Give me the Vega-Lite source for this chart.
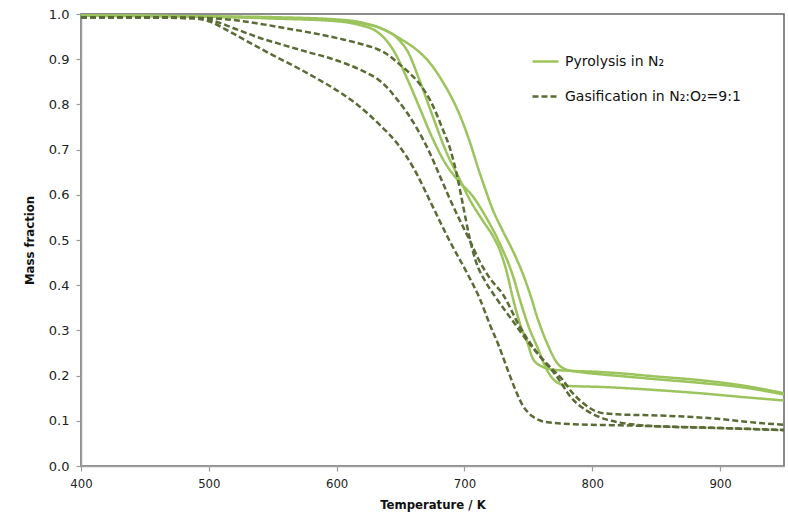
{
  "$schema": "https://vega.github.io/schema/vega-lite/v6.json",
  "width": 703,
  "height": 452,
  "autosize": {"type": "none"},
  "padding": {"left": 81, "top": 14, "right": 4, "bottom": 47},
  "background": "white",
  "config": {
    "view": {"stroke": "#666666", "strokeWidth": 1.5},
    "axis": {"grid": false, "domainColor": "#a0a0a0", "tickColor": "#999999", "domainWidth": 1.5, "tickWidth": 1.2, "tickSize": 5, "labelColor": "#222222", "titleColor": "#111111", "labelFlush": false},
    "legend": {"padding": 0}
  },
  "datasets": {
    "curves": [
      {"T": 400, "m": 0.996, "s": "P1", "type": "Pyrolysis in N₂"},
      {"T": 500, "m": 0.994, "s": "P1", "type": "Pyrolysis in N₂"},
      {"T": 550, "m": 0.990, "s": "P1", "type": "Pyrolysis in N₂"},
      {"T": 600, "m": 0.984, "s": "P1", "type": "Pyrolysis in N₂"},
      {"T": 616, "m": 0.977, "s": "P1", "type": "Pyrolysis in N₂"},
      {"T": 632, "m": 0.960, "s": "P1", "type": "Pyrolysis in N₂"},
      {"T": 645, "m": 0.917, "s": "P1", "type": "Pyrolysis in N₂"},
      {"T": 655, "m": 0.858, "s": "P1", "type": "Pyrolysis in N₂"},
      {"T": 665, "m": 0.792, "s": "P1", "type": "Pyrolysis in N₂"},
      {"T": 675, "m": 0.725, "s": "P1", "type": "Pyrolysis in N₂"},
      {"T": 685, "m": 0.670, "s": "P1", "type": "Pyrolysis in N₂"},
      {"T": 695, "m": 0.632, "s": "P1", "type": "Pyrolysis in N₂"},
      {"T": 707, "m": 0.595, "s": "P1", "type": "Pyrolysis in N₂"},
      {"T": 718, "m": 0.545, "s": "P1", "type": "Pyrolysis in N₂"},
      {"T": 728, "m": 0.490, "s": "P1", "type": "Pyrolysis in N₂"},
      {"T": 738, "m": 0.420, "s": "P1", "type": "Pyrolysis in N₂"},
      {"T": 743.5, "m": 0.367, "s": "P1", "type": "Pyrolysis in N₂"},
      {"T": 750, "m": 0.310, "s": "P1", "type": "Pyrolysis in N₂"},
      {"T": 757, "m": 0.263, "s": "P1", "type": "Pyrolysis in N₂"},
      {"T": 764.6, "m": 0.212, "s": "P1", "type": "Pyrolysis in N₂"},
      {"T": 772.5, "m": 0.185, "s": "P1", "type": "Pyrolysis in N₂"},
      {"T": 782.6, "m": 0.177, "s": "P1", "type": "Pyrolysis in N₂"},
      {"T": 806, "m": 0.175, "s": "P1", "type": "Pyrolysis in N₂"},
      {"T": 850, "m": 0.168, "s": "P1", "type": "Pyrolysis in N₂"},
      {"T": 884, "m": 0.161, "s": "P1", "type": "Pyrolysis in N₂"},
      {"T": 920, "m": 0.152, "s": "P1", "type": "Pyrolysis in N₂"},
      {"T": 950, "m": 0.145, "s": "P1", "type": "Pyrolysis in N₂"},

      {"T": 400, "m": 0.996, "s": "P2", "type": "Pyrolysis in N₂"},
      {"T": 500, "m": 0.994, "s": "P2", "type": "Pyrolysis in N₂"},
      {"T": 550, "m": 0.991, "s": "P2", "type": "Pyrolysis in N₂"},
      {"T": 600, "m": 0.986, "s": "P2", "type": "Pyrolysis in N₂"},
      {"T": 620, "m": 0.979, "s": "P2", "type": "Pyrolysis in N₂"},
      {"T": 635, "m": 0.968, "s": "P2", "type": "Pyrolysis in N₂"},
      {"T": 648, "m": 0.945, "s": "P2", "type": "Pyrolysis in N₂"},
      {"T": 656, "m": 0.915, "s": "P2", "type": "Pyrolysis in N₂"},
      {"T": 664, "m": 0.860, "s": "P2", "type": "Pyrolysis in N₂"},
      {"T": 675, "m": 0.775, "s": "P2", "type": "Pyrolysis in N₂"},
      {"T": 685, "m": 0.700, "s": "P2", "type": "Pyrolysis in N₂"},
      {"T": 697, "m": 0.630, "s": "P2", "type": "Pyrolysis in N₂"},
      {"T": 704, "m": 0.590, "s": "P2", "type": "Pyrolysis in N₂"},
      {"T": 715, "m": 0.540, "s": "P2", "type": "Pyrolysis in N₂"},
      {"T": 722, "m": 0.510, "s": "P2", "type": "Pyrolysis in N₂"},
      {"T": 728, "m": 0.475, "s": "P2", "type": "Pyrolysis in N₂"},
      {"T": 733, "m": 0.430, "s": "P2", "type": "Pyrolysis in N₂"},
      {"T": 738, "m": 0.370, "s": "P2", "type": "Pyrolysis in N₂"},
      {"T": 744, "m": 0.310, "s": "P2", "type": "Pyrolysis in N₂"},
      {"T": 749, "m": 0.275, "s": "P2", "type": "Pyrolysis in N₂"},
      {"T": 754, "m": 0.235, "s": "P2", "type": "Pyrolysis in N₂"},
      {"T": 761.5, "m": 0.219, "s": "P2", "type": "Pyrolysis in N₂"},
      {"T": 770, "m": 0.213, "s": "P2", "type": "Pyrolysis in N₂"},
      {"T": 780, "m": 0.211, "s": "P2", "type": "Pyrolysis in N₂"},
      {"T": 806, "m": 0.208, "s": "P2", "type": "Pyrolysis in N₂"},
      {"T": 822, "m": 0.205, "s": "P2", "type": "Pyrolysis in N₂"},
      {"T": 850, "m": 0.198, "s": "P2", "type": "Pyrolysis in N₂"},
      {"T": 884, "m": 0.190, "s": "P2", "type": "Pyrolysis in N₂"},
      {"T": 920, "m": 0.177, "s": "P2", "type": "Pyrolysis in N₂"},
      {"T": 950, "m": 0.161, "s": "P2", "type": "Pyrolysis in N₂"},

      {"T": 400, "m": 0.997, "s": "P3", "type": "Pyrolysis in N₂"},
      {"T": 500, "m": 0.995, "s": "P3", "type": "Pyrolysis in N₂"},
      {"T": 550, "m": 0.993, "s": "P3", "type": "Pyrolysis in N₂"},
      {"T": 600, "m": 0.988, "s": "P3", "type": "Pyrolysis in N₂"},
      {"T": 620, "m": 0.981, "s": "P3", "type": "Pyrolysis in N₂"},
      {"T": 635, "m": 0.968, "s": "P3", "type": "Pyrolysis in N₂"},
      {"T": 650, "m": 0.945, "s": "P3", "type": "Pyrolysis in N₂"},
      {"T": 665, "m": 0.915, "s": "P3", "type": "Pyrolysis in N₂"},
      {"T": 672, "m": 0.895, "s": "P3", "type": "Pyrolysis in N₂"},
      {"T": 683, "m": 0.850, "s": "P3", "type": "Pyrolysis in N₂"},
      {"T": 690, "m": 0.815, "s": "P3", "type": "Pyrolysis in N₂"},
      {"T": 698, "m": 0.765, "s": "P3", "type": "Pyrolysis in N₂"},
      {"T": 705, "m": 0.710, "s": "P3", "type": "Pyrolysis in N₂"},
      {"T": 710, "m": 0.665, "s": "P3", "type": "Pyrolysis in N₂"},
      {"T": 716, "m": 0.615, "s": "P3", "type": "Pyrolysis in N₂"},
      {"T": 722, "m": 0.568, "s": "P3", "type": "Pyrolysis in N₂"},
      {"T": 730, "m": 0.520, "s": "P3", "type": "Pyrolysis in N₂"},
      {"T": 738, "m": 0.475, "s": "P3", "type": "Pyrolysis in N₂"},
      {"T": 745, "m": 0.430, "s": "P3", "type": "Pyrolysis in N₂"},
      {"T": 751, "m": 0.383, "s": "P3", "type": "Pyrolysis in N₂"},
      {"T": 758, "m": 0.320, "s": "P3", "type": "Pyrolysis in N₂"},
      {"T": 764.6, "m": 0.272, "s": "P3", "type": "Pyrolysis in N₂"},
      {"T": 772.5, "m": 0.228, "s": "P3", "type": "Pyrolysis in N₂"},
      {"T": 780, "m": 0.213, "s": "P3", "type": "Pyrolysis in N₂"},
      {"T": 790, "m": 0.208, "s": "P3", "type": "Pyrolysis in N₂"},
      {"T": 806, "m": 0.203, "s": "P3", "type": "Pyrolysis in N₂"},
      {"T": 822, "m": 0.199, "s": "P3", "type": "Pyrolysis in N₂"},
      {"T": 850, "m": 0.192, "s": "P3", "type": "Pyrolysis in N₂"},
      {"T": 884, "m": 0.184, "s": "P3", "type": "Pyrolysis in N₂"},
      {"T": 920, "m": 0.173, "s": "P3", "type": "Pyrolysis in N₂"},
      {"T": 950, "m": 0.158, "s": "P3", "type": "Pyrolysis in N₂"},

      {"T": 400, "m": 0.992, "s": "G1", "type": "Gasification in N₂:O₂=9:1"},
      {"T": 450, "m": 0.992, "s": "G1", "type": "Gasification in N₂:O₂=9:1"},
      {"T": 490, "m": 0.990, "s": "G1", "type": "Gasification in N₂:O₂=9:1"},
      {"T": 500, "m": 0.984, "s": "G1", "type": "Gasification in N₂:O₂=9:1"},
      {"T": 517, "m": 0.960, "s": "G1", "type": "Gasification in N₂:O₂=9:1"},
      {"T": 533, "m": 0.935, "s": "G1", "type": "Gasification in N₂:O₂=9:1"},
      {"T": 550, "m": 0.909, "s": "G1", "type": "Gasification in N₂:O₂=9:1"},
      {"T": 570, "m": 0.880, "s": "G1", "type": "Gasification in N₂:O₂=9:1"},
      {"T": 589, "m": 0.850, "s": "G1", "type": "Gasification in N₂:O₂=9:1"},
      {"T": 603, "m": 0.826, "s": "G1", "type": "Gasification in N₂:O₂=9:1"},
      {"T": 616, "m": 0.800, "s": "G1", "type": "Gasification in N₂:O₂=9:1"},
      {"T": 634, "m": 0.754, "s": "G1", "type": "Gasification in N₂:O₂=9:1"},
      {"T": 647, "m": 0.715, "s": "G1", "type": "Gasification in N₂:O₂=9:1"},
      {"T": 660, "m": 0.660, "s": "G1", "type": "Gasification in N₂:O₂=9:1"},
      {"T": 675, "m": 0.575, "s": "G1", "type": "Gasification in N₂:O₂=9:1"},
      {"T": 688, "m": 0.500, "s": "G1", "type": "Gasification in N₂:O₂=9:1"},
      {"T": 702, "m": 0.427, "s": "G1", "type": "Gasification in N₂:O₂=9:1"},
      {"T": 712, "m": 0.370, "s": "G1", "type": "Gasification in N₂:O₂=9:1"},
      {"T": 720, "m": 0.312, "s": "G1", "type": "Gasification in N₂:O₂=9:1"},
      {"T": 727, "m": 0.265, "s": "G1", "type": "Gasification in N₂:O₂=9:1"},
      {"T": 733, "m": 0.219, "s": "G1", "type": "Gasification in N₂:O₂=9:1"},
      {"T": 741, "m": 0.161, "s": "G1", "type": "Gasification in N₂:O₂=9:1"},
      {"T": 746, "m": 0.132, "s": "G1", "type": "Gasification in N₂:O₂=9:1"},
      {"T": 751, "m": 0.115, "s": "G1", "type": "Gasification in N₂:O₂=9:1"},
      {"T": 758, "m": 0.102, "s": "G1", "type": "Gasification in N₂:O₂=9:1"},
      {"T": 767, "m": 0.096, "s": "G1", "type": "Gasification in N₂:O₂=9:1"},
      {"T": 790, "m": 0.092, "s": "G1", "type": "Gasification in N₂:O₂=9:1"},
      {"T": 822, "m": 0.090, "s": "G1", "type": "Gasification in N₂:O₂=9:1"},
      {"T": 850, "m": 0.088, "s": "G1", "type": "Gasification in N₂:O₂=9:1"},
      {"T": 900, "m": 0.084, "s": "G1", "type": "Gasification in N₂:O₂=9:1"},
      {"T": 950, "m": 0.080, "s": "G1", "type": "Gasification in N₂:O₂=9:1"},

      {"T": 400, "m": 0.992, "s": "G2", "type": "Gasification in N₂:O₂=9:1"},
      {"T": 450, "m": 0.992, "s": "G2", "type": "Gasification in N₂:O₂=9:1"},
      {"T": 490, "m": 0.991, "s": "G2", "type": "Gasification in N₂:O₂=9:1"},
      {"T": 501, "m": 0.987, "s": "G2", "type": "Gasification in N₂:O₂=9:1"},
      {"T": 520, "m": 0.968, "s": "G2", "type": "Gasification in N₂:O₂=9:1"},
      {"T": 538, "m": 0.949, "s": "G2", "type": "Gasification in N₂:O₂=9:1"},
      {"T": 560, "m": 0.930, "s": "G2", "type": "Gasification in N₂:O₂=9:1"},
      {"T": 577, "m": 0.916, "s": "G2", "type": "Gasification in N₂:O₂=9:1"},
      {"T": 595, "m": 0.902, "s": "G2", "type": "Gasification in N₂:O₂=9:1"},
      {"T": 610, "m": 0.887, "s": "G2", "type": "Gasification in N₂:O₂=9:1"},
      {"T": 622, "m": 0.872, "s": "G2", "type": "Gasification in N₂:O₂=9:1"},
      {"T": 632, "m": 0.856, "s": "G2", "type": "Gasification in N₂:O₂=9:1"},
      {"T": 640, "m": 0.836, "s": "G2", "type": "Gasification in N₂:O₂=9:1"},
      {"T": 647, "m": 0.812, "s": "G2", "type": "Gasification in N₂:O₂=9:1"},
      {"T": 655, "m": 0.782, "s": "G2", "type": "Gasification in N₂:O₂=9:1"},
      {"T": 663, "m": 0.746, "s": "G2", "type": "Gasification in N₂:O₂=9:1"},
      {"T": 673, "m": 0.692, "s": "G2", "type": "Gasification in N₂:O₂=9:1"},
      {"T": 681, "m": 0.640, "s": "G2", "type": "Gasification in N₂:O₂=9:1"},
      {"T": 689, "m": 0.588, "s": "G2", "type": "Gasification in N₂:O₂=9:1"},
      {"T": 697, "m": 0.540, "s": "G2", "type": "Gasification in N₂:O₂=9:1"},
      {"T": 704, "m": 0.500, "s": "G2", "type": "Gasification in N₂:O₂=9:1"},
      {"T": 712, "m": 0.452, "s": "G2", "type": "Gasification in N₂:O₂=9:1"},
      {"T": 720, "m": 0.415, "s": "G2", "type": "Gasification in N₂:O₂=9:1"},
      {"T": 730, "m": 0.380, "s": "G2", "type": "Gasification in N₂:O₂=9:1"},
      {"T": 743.5, "m": 0.307, "s": "G2", "type": "Gasification in N₂:O₂=9:1"},
      {"T": 757, "m": 0.250, "s": "G2", "type": "Gasification in N₂:O₂=9:1"},
      {"T": 772.5, "m": 0.197, "s": "G2", "type": "Gasification in N₂:O₂=9:1"},
      {"T": 783, "m": 0.153, "s": "G2", "type": "Gasification in N₂:O₂=9:1"},
      {"T": 796, "m": 0.122, "s": "G2", "type": "Gasification in N₂:O₂=9:1"},
      {"T": 806, "m": 0.108, "s": "G2", "type": "Gasification in N₂:O₂=9:1"},
      {"T": 815, "m": 0.100, "s": "G2", "type": "Gasification in N₂:O₂=9:1"},
      {"T": 822, "m": 0.096, "s": "G2", "type": "Gasification in N₂:O₂=9:1"},
      {"T": 835, "m": 0.091, "s": "G2", "type": "Gasification in N₂:O₂=9:1"},
      {"T": 850, "m": 0.088, "s": "G2", "type": "Gasification in N₂:O₂=9:1"},
      {"T": 900, "m": 0.084, "s": "G2", "type": "Gasification in N₂:O₂=9:1"},
      {"T": 950, "m": 0.079, "s": "G2", "type": "Gasification in N₂:O₂=9:1"},

      {"T": 400, "m": 0.993, "s": "G3", "type": "Gasification in N₂:O₂=9:1"},
      {"T": 450, "m": 0.993, "s": "G3", "type": "Gasification in N₂:O₂=9:1"},
      {"T": 500, "m": 0.991, "s": "G3", "type": "Gasification in N₂:O₂=9:1"},
      {"T": 524, "m": 0.985, "s": "G3", "type": "Gasification in N₂:O₂=9:1"},
      {"T": 545, "m": 0.976, "s": "G3", "type": "Gasification in N₂:O₂=9:1"},
      {"T": 563, "m": 0.967, "s": "G3", "type": "Gasification in N₂:O₂=9:1"},
      {"T": 583, "m": 0.957, "s": "G3", "type": "Gasification in N₂:O₂=9:1"},
      {"T": 603, "m": 0.945, "s": "G3", "type": "Gasification in N₂:O₂=9:1"},
      {"T": 620, "m": 0.933, "s": "G3", "type": "Gasification in N₂:O₂=9:1"},
      {"T": 632, "m": 0.922, "s": "G3", "type": "Gasification in N₂:O₂=9:1"},
      {"T": 640, "m": 0.910, "s": "G3", "type": "Gasification in N₂:O₂=9:1"},
      {"T": 647, "m": 0.894, "s": "G3", "type": "Gasification in N₂:O₂=9:1"},
      {"T": 656, "m": 0.872, "s": "G3", "type": "Gasification in N₂:O₂=9:1"},
      {"T": 665, "m": 0.845, "s": "G3", "type": "Gasification in N₂:O₂=9:1"},
      {"T": 673, "m": 0.810, "s": "G3", "type": "Gasification in N₂:O₂=9:1"},
      {"T": 683, "m": 0.745, "s": "G3", "type": "Gasification in N₂:O₂=9:1"},
      {"T": 689, "m": 0.700, "s": "G3", "type": "Gasification in N₂:O₂=9:1"},
      {"T": 694, "m": 0.645, "s": "G3", "type": "Gasification in N₂:O₂=9:1"},
      {"T": 699, "m": 0.575, "s": "G3", "type": "Gasification in N₂:O₂=9:1"},
      {"T": 704, "m": 0.505, "s": "G3", "type": "Gasification in N₂:O₂=9:1"},
      {"T": 709, "m": 0.452, "s": "G3", "type": "Gasification in N₂:O₂=9:1"},
      {"T": 716, "m": 0.410, "s": "G3", "type": "Gasification in N₂:O₂=9:1"},
      {"T": 724, "m": 0.375, "s": "G3", "type": "Gasification in N₂:O₂=9:1"},
      {"T": 738, "m": 0.320, "s": "G3", "type": "Gasification in N₂:O₂=9:1"},
      {"T": 751, "m": 0.270, "s": "G3", "type": "Gasification in N₂:O₂=9:1"},
      {"T": 764.6, "m": 0.226, "s": "G3", "type": "Gasification in N₂:O₂=9:1"},
      {"T": 777, "m": 0.190, "s": "G3", "type": "Gasification in N₂:O₂=9:1"},
      {"T": 785, "m": 0.160, "s": "G3", "type": "Gasification in N₂:O₂=9:1"},
      {"T": 793, "m": 0.139, "s": "G3", "type": "Gasification in N₂:O₂=9:1"},
      {"T": 800, "m": 0.125, "s": "G3", "type": "Gasification in N₂:O₂=9:1"},
      {"T": 808, "m": 0.117, "s": "G3", "type": "Gasification in N₂:O₂=9:1"},
      {"T": 822, "m": 0.114, "s": "G3", "type": "Gasification in N₂:O₂=9:1"},
      {"T": 850, "m": 0.112, "s": "G3", "type": "Gasification in N₂:O₂=9:1"},
      {"T": 880, "m": 0.108, "s": "G3", "type": "Gasification in N₂:O₂=9:1"},
      {"T": 900, "m": 0.104, "s": "G3", "type": "Gasification in N₂:O₂=9:1"},
      {"T": 920, "m": 0.098, "s": "G3", "type": "Gasification in N₂:O₂=9:1"},
      {"T": 950, "m": 0.091, "s": "G3", "type": "Gasification in N₂:O₂=9:1"}
    ]
  },
  "data": {"name": "curves"},
  "mark": {"type": "line", "interpolate": "monotone", "strokeWidth": 2.5, "clip": true},
  "encoding": {
    "x": {
      "field": "T", "type": "quantitative",
      "scale": {"domain": [400, 950], "nice": false, "zero": false},
      "axis": {
        "values": [400, 500, 600, 700, 800, 900], "format": "d",
        "title": "Temperature / K",
        "labelFont": "Liberation Sans Narrow, DejaVu Sans Condensed, sans-serif",
        "labelFontSize": 13, "labelPadding": 6,
        "titleFont": "Liberation Sans Narrow, DejaVu Sans Condensed, sans-serif",
        "titleFontSize": 13, "titleFontWeight": "bold", "titlePadding": 8
      }
    },
    "y": {
      "field": "m", "type": "quantitative",
      "scale": {"domain": [0, 1], "nice": false},
      "axis": {
        "values": [0, 0.1, 0.2, 0.3, 0.4, 0.5, 0.6, 0.7, 0.8, 0.9, 1.0], "format": ".1f",
        "title": "Mass fraction",
        "labelFont": "DejaVu Sans", "labelFontSize": 13, "labelPadding": 7,
        "titleFont": "Liberation Sans Narrow, DejaVu Sans Condensed, sans-serif",
        "titleFontSize": 13, "titleFontWeight": "bold", "titlePadding": 12
      }
    },
    "color": {
      "field": "type", "type": "nominal",
      "scale": {"domain": ["Pyrolysis in N₂", "Gasification in N₂:O₂=9:1"], "range": ["#9cc45c", "#5a6b35"]},
      "legend": {
        "title": null, "orient": "none", "legendX": 450, "legendY": 33,
        "symbolType": "stroke", "symbolSize": 676, "symbolStrokeWidth": 2.5,
        "labelFont": "DejaVu Sans", "labelFontSize": 14, "labelColor": "#111111",
        "labelOffset": 5, "rowPadding": 13, "labelLimit": 400
      }
    },
    "strokeDash": {
      "field": "type", "type": "nominal",
      "scale": {"domain": ["Pyrolysis in N₂", "Gasification in N₂:O₂=9:1"], "range": [[1, 0], [6, 3]]},
      "legend": null
    },
    "detail": {"field": "s", "type": "nominal"}
  }
}
